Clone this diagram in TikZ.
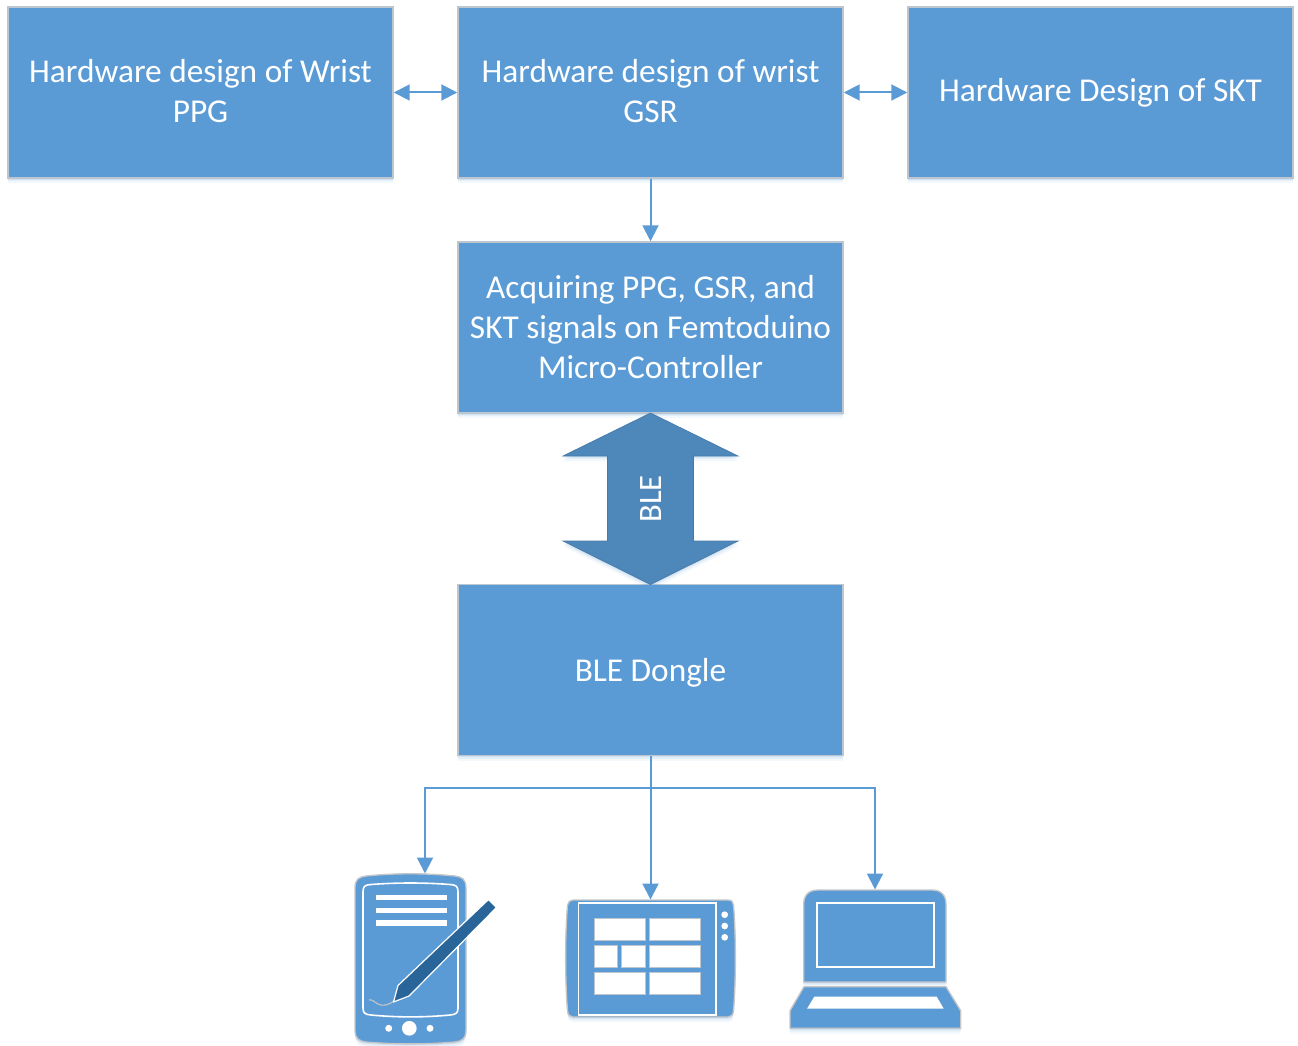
\documentclass[tikz,border=0pt]{standalone}
\usepackage{fontspec}
\setmainfont{Carlito}
\usetikzlibrary{arrows.meta,shadows}
\definecolor{mainblue}{HTML}{5B9BD5}
\definecolor{darkblue}{HTML}{4E87BA}
\definecolor{penblue}{HTML}{2A6599}
\definecolor{edgegray}{HTML}{BDC6CE}
\definecolor{icongray}{HTML}{C4C6C8}
\tikzset{
  softshadow/.style={
    drop shadow={shadow xshift=0pt,shadow yshift=-4pt,opacity=.07,fill=mainblue},
    drop shadow={shadow xshift=0pt,shadow yshift=-2.5pt,opacity=.10,fill=mainblue},
    drop shadow={shadow xshift=0pt,shadow yshift=-1.2pt,opacity=.15,fill=mainblue}},
  box/.style={draw=edgegray,line width=1.1pt,fill=mainblue,text=white,
    minimum width=288.75pt,minimum height=128.25pt,align=center,inner sep=0pt,
    font=\fontsize{25}{30}\selectfont,softshadow},
  conn/.style={draw=mainblue,line width=1.5pt},
  head/.style={-{Triangle[length=12pt,width=12pt]}},
  dhead/.style={{Triangle[length=12pt,width=12pt]}-{Triangle[length=12pt,width=12pt]}},
  iconbody/.style={fill=mainblue,draw=icongray,line width=1pt,softshadow},
  whiteline/.style={draw=white,line width=1.2pt},
  whitefill/.style={fill=white,draw=none},
  tile/.style={fill=white,draw=edgegray,line width=.4pt},
}
\begin{document}
\begin{tikzpicture}[x=0.75pt,y=-0.75pt]
\useasboundingbox (0,0) rectangle (1298,1045);
% boxes
\node[box,text depth=3pt] (ppg) at (200.5,92.5) {Hardware design of Wrist\\PPG};
\node[box,text depth=3pt] (gsr) at (650.5,92.5) {Hardware design of wrist\\GSR};
\node[box,text depth=3.5pt] (skt) at (1100.5,92.5) {Hardware Design of SKT};
\node[box] (acq) at (650.5,327.5) {Acquiring PPG, GSR, and\\SKT signals on Femtoduino\\Micro-Controller};
\node[box,text depth=0pt] (dongle) at (650.5,670) {BLE Dongle};
% BLE double arrow
\path[fill=darkblue,draw=darkblue!90!black,line width=.5pt,softshadow]
  (650.5,413) -- (738,456) -- (693.5,456) -- (693.5,541) -- (738,541)
  -- (650.5,584.5) -- (563,541) -- (607.5,541) -- (607.5,456) -- (563,456) -- cycle;
\node[rotate=90,text=white,font=\fontsize{24.5}{28}\selectfont,inner sep=0pt] (ble) at (651.5,499) {BLE};
% phone
\path[iconbody] (355,888) .. controls (355,879) and (359,877) .. (366,876) .. controls (395,873) and (425,873) .. (455,876)
  .. controls (462,877) and (466,879) .. (466,888) -- (466,1030) .. controls (466,1039) and (462,1041) .. (455,1042)
  .. controls (425,1044.5) and (395,1044.5) .. (366,1042) .. controls (359,1041) and (355,1039) .. (355,1030) -- cycle;
\path[whiteline] (363,892) .. controls (363,886) and (365,885) .. (371,884.5) .. controls (397,882.5) and (424,882.5) .. (450,884.5)
  .. controls (456,885) and (458,886) .. (458,892) -- (458,1008) .. controls (458,1013) and (456,1014.5) .. (450,1015)
  .. controls (424,1017.5) and (397,1017.5) .. (371,1015) .. controls (365,1014.5) and (363,1013) .. (363,1008) -- cycle;
\path[whitefill] (376,894.5) rectangle (447,900);
\path[whitefill] (376,907.5) rectangle (447,913);
\path[whitefill] (376,920) rectangle (447,926);
\path[draw=icongray,line width=.8pt] (395,1000) .. controls (388,1006) and (382,1006) .. (378,1004) .. controls (374,1002) and (372,999) .. (369,1000);
\path[fill=penblue,draw=white,line width=.9pt,line join=round] (488.5,899.5) -- (496.5,907.5) -- (409,996) -- (393.5,1002) -- (398,985.5) -- cycle;
\path[whitefill] (388.7,1028.3) circle[radius=2.6pt];
\path[whitefill] (409.3,1028.3) circle[radius=5.5pt];
\path[whitefill] (430,1028.3) circle[radius=2.6pt];
\coordinate (phonetop) at (425,873.5);
% tablet
\path[iconbody] (573,900) -- (728,900) .. controls (732,900) and (733,902) .. (733.5,905)
  .. controls (736,935) and (736,980) .. (733.5,1011) .. controls (733,1015) and (731,1017) .. (728,1017)
  -- (573,1017) .. controls (570,1017) and (568,1015) .. (567.5,1011)
  .. controls (565,980) and (565,935) .. (567.5,905) .. controls (568,902) and (570,900) .. (573,900) -- cycle;
\path[whiteline] (578.5,903) rectangle (716,1015);
\foreach \xa/\xb/\ya/\yb in {594.3/645.3/918.7/940.7,649.7/700.3/918.7/940.7,594.3/617.7/945.3/967.3,621.7/645.3/945.3/967.3,649.7/700.3/945.3/967.3,594.3/645.3/972/994,649.7/700.3/972/994}
  \path[tile] (\xa,\ya) rectangle (\xb,\yb);
\foreach \yy in {914.7,926,937.3} \path[whitefill] (724.7,\yy) circle[radius=2.5pt];
\coordinate (tablettop) at (650.5,899.5);
% laptop
\path[iconbody] (803.7,982) -- (803.7,904) .. controls (803.7,895) and (809,890) .. (818,890) -- (932,890)
  .. controls (941,890) and (946,895) .. (946,904) -- (946,982) -- cycle;
\path[whiteline] (817,902.7) rectangle (933.7,967);
\path[iconbody] (804,986.7) -- (946,986.7) -- (960.7,1010.7) -- (960.7,1028.3) -- (790,1028.3) -- (790,1010.7) -- cycle;
\path[whitefill] (814.3,996.7) -- (936.7,996.7) -- (943.7,1008.7) -- (807,1008.7) -- cycle;
\coordinate (laptoptop) at (875,889.5);
% connectors
\draw[conn,dhead] (ppg) -- (gsr);
\draw[conn,dhead] (gsr) -- (skt);
\draw[conn,head] (gsr) -- (acq);
\coordinate (split) at (650.5,788);
\draw[conn] (dongle.south) -- (split);
\draw[conn,head] (split) -| (phonetop);
\draw[conn,head] (split) -- (tablettop);
\draw[conn,head] (split) -| (laptoptop);
\end{tikzpicture}
\end{document}
